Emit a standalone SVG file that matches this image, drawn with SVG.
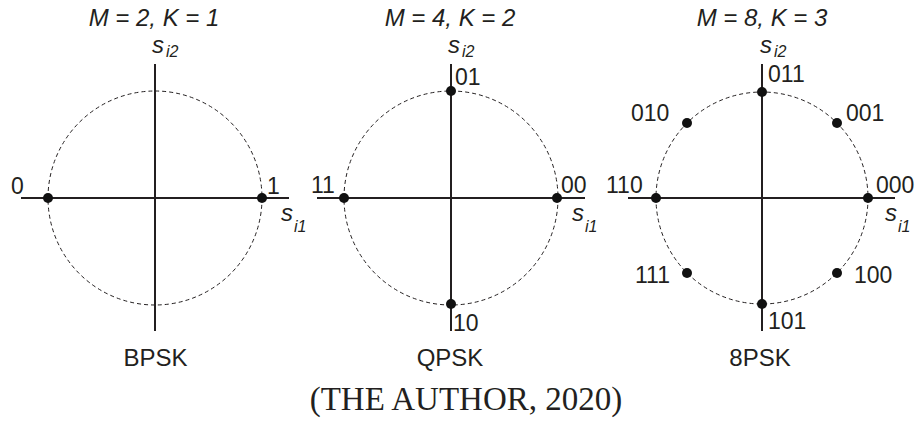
<svg xmlns="http://www.w3.org/2000/svg" width="920" height="421" viewBox="0 0 920 421">
<style>
text{font-family:"Liberation Sans",Arial,sans-serif;fill:#231f20}
.t{font-size:24px;font-style:italic;text-anchor:middle}
.n{font-size:24px;text-anchor:middle}
.l{font-size:23px}
.s{font-size:24px;font-style:italic}
.sub{font-size:16px;font-style:italic}
.ax{stroke:#231f20;stroke-width:2;fill:none}
.c{stroke:#231f20;stroke-width:1;stroke-dasharray:4 3;fill:none}
.d{fill:#111}
.cap{font-family:"Liberation Serif","Times New Roman",serif;font-size:33px;text-anchor:middle}
</style>
<g id="bpsk">
<text class="t" x="154" y="26">M = 2, K = 1</text>
<circle class="c" cx="155" cy="198" r="107"/>
<line class="ax" x1="155" y1="64" x2="155" y2="331"/>
<line class="ax" x1="21" y1="198" x2="289" y2="198"/>
<circle class="d" cx="48" cy="198" r="5"/>
<circle class="d" cx="262" cy="198" r="5"/>
<text class="l" x="11" y="194">0</text>
<text class="l" x="267" y="194">1</text>
<text class="s" x="152" y="53">s</text><text class="sub" x="166" y="57">i2</text>
<text class="s" x="281" y="221">s</text><text class="sub" x="294" y="232">i1</text>
<text class="n" x="155.5" y="366">BPSK</text>
</g>
<g id="qpsk">
<text class="t" x="450" y="26">M = 4, K = 2</text>
<circle class="c" cx="451" cy="198" r="107"/>
<line class="ax" x1="451" y1="64" x2="451" y2="331"/>
<line class="ax" x1="317" y1="198" x2="585" y2="198"/>
<circle class="d" cx="344" cy="198" r="5"/>
<circle class="d" cx="557" cy="198" r="5"/>
<circle class="d" cx="451" cy="91" r="5"/>
<circle class="d" cx="451" cy="304" r="5"/>
<text class="l" x="455" y="85">01</text>
<text class="l" x="311" y="193">11</text>
<text class="l" x="561" y="193">00</text>
<text class="l" x="453" y="331">10</text>
<text class="s" x="448" y="53">s</text><text class="sub" x="462" y="57">i2</text>
<text class="s" x="572" y="221">s</text><text class="sub" x="585" y="232">i1</text>
<text class="n" x="450" y="366">QPSK</text>
</g>
<g id="psk8">
<text class="t" x="762" y="26">M = 8, K = 3</text>
<circle class="c" cx="762" cy="198" r="106"/>
<line class="ax" x1="762" y1="64" x2="762" y2="331"/>
<line class="ax" x1="628" y1="198" x2="895" y2="198"/>
<circle class="d" cx="656" cy="198" r="5"/>
<circle class="d" cx="868" cy="198" r="5"/>
<circle class="d" cx="762" cy="92" r="5"/>
<circle class="d" cx="762" cy="304" r="5"/>
<circle class="d" cx="687" cy="123" r="5"/>
<circle class="d" cx="837" cy="123" r="5"/>
<circle class="d" cx="687" cy="273" r="5"/>
<circle class="d" cx="837" cy="273" r="5"/>
<text class="l" x="768" y="82">011</text>
<text class="l" x="631" y="121">010</text>
<text class="l" x="846" y="121">001</text>
<text class="l" x="606" y="193">110</text>
<text class="l" x="876" y="193">000</text>
<text class="l" x="635" y="283">111</text>
<text class="l" x="854" y="283">100</text>
<text class="l" x="768" y="329">101</text>
<text class="s" x="760" y="53">s</text><text class="sub" x="774" y="57">i2</text>
<text class="s" x="885" y="221">s</text><text class="sub" x="898" y="232">i1</text>
<text class="n" x="760" y="366">8PSK</text>
</g>
<g id="connectors"></g>
<text class="cap" x="466" y="410">(THE AUTHOR, 2020)</text>
</svg>
